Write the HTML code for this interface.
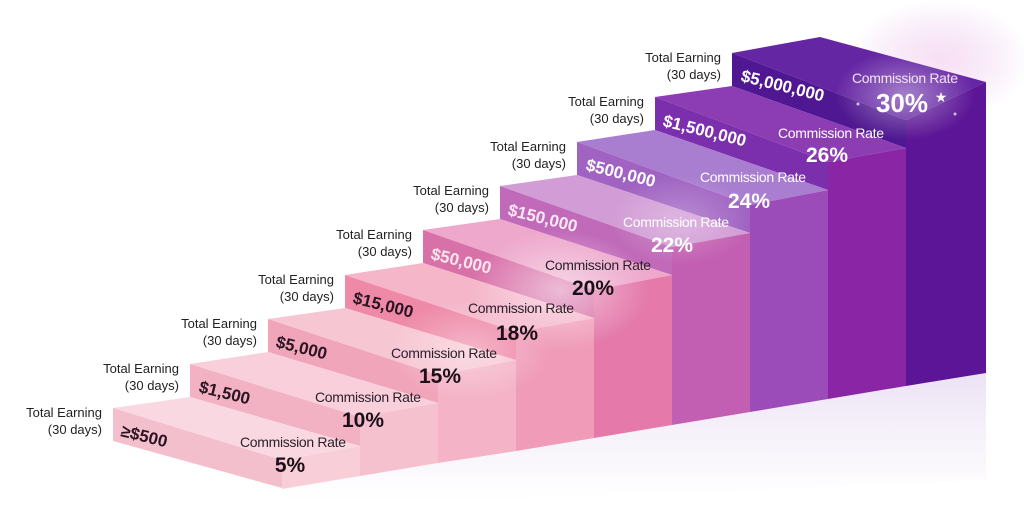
<!DOCTYPE html>
<html><head><meta charset="utf-8"><style>
html,body{margin:0;padding:0;background:#fff;}
svg{display:block;}
text{font-family:"Liberation Sans",sans-serif;}
</style></head><body>
<svg width="1024" height="509" viewBox="0 0 1024 509" xmlns="http://www.w3.org/2000/svg">
<defs>
<linearGradient id="floor" x1="0" y1="0" x2="0" y2="1">
<stop offset="0" stop-color="#e9def3" stop-opacity="0.9"/><stop offset="0.7" stop-color="#f6f1fa" stop-opacity="0.5"/><stop offset="1" stop-color="#ffffff" stop-opacity="0"/>
</linearGradient>
<radialGradient id="glow" cx="0.5" cy="0.5" r="0.5">
<stop offset="0" stop-color="#fff" stop-opacity="0.75"/><stop offset="1" stop-color="#fff" stop-opacity="0"/>
</radialGradient>
<radialGradient id="glowP" cx="0.5" cy="0.5" r="0.5">
<stop offset="0" stop-color="#f6d6f0" stop-opacity="0.8"/><stop offset="1" stop-color="#e9c6f0" stop-opacity="0"/>
</radialGradient>
</defs>
<rect width="1024" height="509" fill="#fff"/>
<ellipse cx="940" cy="60" rx="90" ry="60" fill="url(#glowP)"/>
<!-- floor -->
<polygon points="282,489 986,373 986,480 282,509" fill="url(#floor)"/>
<!-- step 8 -->
<polygon points="732,53 820,37 986,82 906,120" fill="#6526a4"/>
<polygon points="906,120 986,82 986,373 906,386" fill="#5c1596"/>
<polygon points="732,53 906,120 906,148 732,86" fill="#4f1791"/>
<!-- step 7 -->
<polygon points="655,97 732,86 906,148 828,162" fill="#8c3db4"/>
<polygon points="828,162 906,148 906,386 828,399" fill="#8a26a5"/>
<polygon points="655,97 828,162 828,190 655,130" fill="#7c2fac"/>
<!-- step 6 -->
<polygon points="577,142 655,130 828,190 750,205" fill="#a97ed0"/>
<polygon points="750,205 828,190 828,399 750,412" fill="#9b4cb8"/>
<polygon points="577,142 750,205 750,233 577,175" fill="#a063c2"/>
<!-- step 5 -->
<polygon points="500,186 577,175 750,233 672,247" fill="#d29cd6"/>
<polygon points="672,247 750,233 750,412 672,425" fill="#c35fb2"/>
<polygon points="500,186 672,247 672,275 500,219" fill="#c06ab9"/>
<!-- step 4 -->
<polygon points="423,230 500,219 672,275 594,290" fill="#eda8cc"/>
<polygon points="594,290 672,275 672,425 594,438" fill="#e479aa"/>
<polygon points="423,230 594,290 594,318 423,263" fill="#d971a9"/>
<!-- step 3 -->
<polygon points="345,275 423,263 594,318 516,332" fill="#f5b6ca"/>
<polygon points="516,332 594,318 594,438 516,451" fill="#f09cb8"/>
<polygon points="345,275 516,332 516,360 345,308" fill="#ee8aa8"/>
<!-- step 2 -->
<polygon points="268,319 345,308 516,360 438,375" fill="#f7c6d3"/>
<polygon points="438,375 516,360 516,451 438,463" fill="#f4b3c6"/>
<polygon points="268,319 438,375 438,403 268,352" fill="#f1a5ba"/>
<!-- step 1 -->
<polygon points="190,364 268,352 438,403 360,417" fill="#f8cfda"/>
<polygon points="360,417 438,403 438,463 360,476" fill="#f6c1cf"/>
<polygon points="190,364 360,417 360,446 190,397" fill="#f2b2c3"/>
<!-- step 0 -->
<polygon points="113,408 190,397 360,446 282,460" fill="#fad8e1"/>
<polygon points="282,460 360,446 360,476 282,489" fill="#f8cfd9"/>
<polygon points="113,408 282,460 282,488 113,441" fill="#f4bfcd"/>
<!-- glows -->
<ellipse cx="905" cy="95" rx="70" ry="45" fill="url(#glow)" opacity="0.55"/>
<ellipse cx="560" cy="290" rx="90" ry="60" fill="url(#glow)" opacity="0.7"/>
<ellipse cx="470" cy="350" rx="80" ry="50" fill="url(#glow)" opacity="0.5"/>
<ellipse cx="680" cy="220" rx="70" ry="45" fill="url(#glow)" opacity="0.35"/>
<!-- labels -->
<g font-size="13" fill="#222" text-anchor="end">
<text x="102" y="417">Total Earning</text><text x="102" y="434">(30 days)</text>
<text x="179" y="373">Total Earning</text><text x="179" y="390">(30 days)</text>
<text x="257" y="328">Total Earning</text><text x="257" y="345">(30 days)</text>
<text x="334" y="284">Total Earning</text><text x="334" y="301">(30 days)</text>
<text x="412" y="239">Total Earning</text><text x="412" y="256">(30 days)</text>
<text x="489" y="195">Total Earning</text><text x="489" y="212">(30 days)</text>
<text x="566" y="151">Total Earning</text><text x="566" y="168">(30 days)</text>
<text x="644" y="106">Total Earning</text><text x="644" y="123">(30 days)</text>
<text x="721" y="62">Total Earning</text><text x="721" y="79">(30 days)</text>
</g>
<!-- dollar values -->
<g font-size="17" font-weight="bold">
<text transform="translate(120,436) rotate(14)" fill="#2a1420">≥$500</text>
<text transform="translate(198,392) rotate(14)" fill="#2a1420">$1,500</text>
<text transform="translate(275,347) rotate(14)" fill="#2a1420">$5,000</text>
<text transform="translate(352,303) rotate(14)" fill="#2a1420">$15,000</text>
<text transform="translate(430,259) rotate(14)" fill="#fbe6ef">$50,000</text>
<text transform="translate(507,215) rotate(14)" fill="#fbe9f5">$150,000</text>
<text transform="translate(585,170) rotate(14)" fill="#fff">$500,000</text>
<text transform="translate(662,126) rotate(14)" fill="#fff">$1,500,000</text>
<text transform="translate(740,81) rotate(14)" fill="#fff">$5,000,000</text>
</g>
<!-- commission -->
<g text-anchor="middle">
<g font-size="14" fill="#2a1f2a">
<text x="293" y="447" textLength="106">Commission Rate</text>
<text x="368" y="402" textLength="106">Commission Rate</text>
<text x="444" y="358" textLength="106">Commission Rate</text>
<text x="521" y="313" textLength="106">Commission Rate</text>
<text x="598" y="270" textLength="106">Commission Rate</text>
</g>
<g font-size="14" fill="#fff">
<text x="676" y="227" textLength="106">Commission Rate</text>
<text x="753" y="182" textLength="106">Commission Rate</text>
<text x="831" y="138" textLength="106">Commission Rate</text>
<text x="905" y="83" textLength="106" fill="#f3e3f7">Commission Rate</text>
</g>
<g font-size="21" font-weight="bold" fill="#1a1018">
<text x="290" y="472">5%</text>
<text x="363" y="427">10%</text>
<text x="440" y="383">15%</text>
<text x="517" y="340">18%</text>
<text x="593" y="295">20%</text>
</g>
<g font-size="21" font-weight="bold" fill="#fff">
<text x="672" y="252">22%</text>
<text x="749" y="208">24%</text>
<text x="827" y="162">26%</text>
<text x="902" y="112" font-size="26">30%</text>
</g>
<text x="941" y="102" font-size="14" fill="#fff">★</text>
<circle cx="858" cy="104" r="1.5" fill="#fff" opacity="0.7"/>
<circle cx="955" cy="114" r="1.5" fill="#d8b8f0"/>
</g>
</svg>
</body></html>
